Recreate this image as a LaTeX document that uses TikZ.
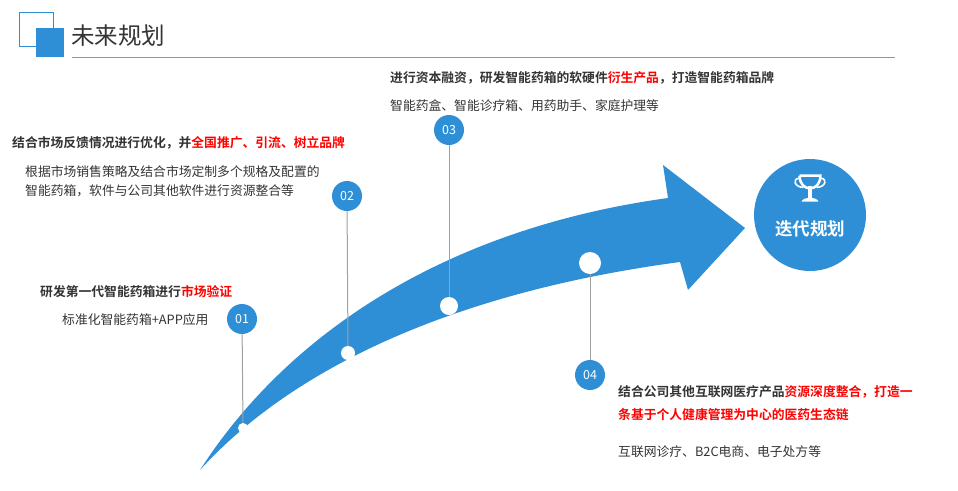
\documentclass[tikz,border=0pt]{standalone}
\usepackage{fontspec}
\setmainfont{Noto Sans CJK SC}[BoldFont={Noto Sans CJK SC Bold}]
\definecolor{myblue}{HTML}{2E8FD6}
\definecolor{mytext}{HTML}{333333}
\definecolor{mygray}{HTML}{A0A0A0}
\tikzset{
  numdot/.style = {circle, fill=myblue, text=white, minimum size=30pt, inner sep=0pt, font=\fontsize{12.5}{12.5}\selectfont},
  whitedot/.style = {circle, fill=white, inner sep=0pt},
  txt/.style = {anchor=west, inner sep=0pt, text=mytext, font=\fontsize{12.8}{14}\selectfont},
  boldtxt/.style = {txt, font=\fontsize{12.8}{14}\selectfont\bfseries},
  stem/.style = {mygray, line width=1pt}
}
\newcommand{\hl}[1]{\textcolor{red}{#1}}
\begin{document}
\begin{tikzpicture}[x=1pt, y=-1pt]
\useasboundingbox (0,0) rectangle (958,490);
% title
\draw [myblue, line width=1pt] (19.5,12.5) rectangle (53,46);
\fill [myblue] (36,28) rectangle (64,57);
\node [txt, font=\fontsize{23.5}{23.5}\selectfont] (title) at (71,36) {未来规划};
\draw [myblue!80, line width=0.6pt] (72,57) -- (895,57);
% arrow
\fill [myblue] (200,470) .. controls (290,330) and (450,228) .. (668,198)
  -- (663,165) -- (745,228) -- (688,290) -- (680,262)
  .. controls (470,290) and (300,360) .. (200,470);
% dots on the arrow
\node [whitedot, minimum size=10pt] (d1) at (243,428) {};
\node [whitedot, minimum size=14pt] (d2) at (348,353) {};
\node [whitedot, minimum size=18pt] (d3) at (449,306) {};
\node [whitedot, minimum size=22pt] (d4) at (590,263) {};
% number circles
\node [numdot] (n1) at (242,319) {01};
\node [numdot] (n2) at (347,196) {02};
\node [numdot] (n3) at (449,130) {03};
\node [numdot] (n4) at (590,375) {04};
\draw [stem] (n1) -- (d1);
\draw [stem] (n2) -- (d2);
\draw [stem] (n3) -- (d3);
\draw [stem] (n4) -- (d4);
% goal
\node [circle, fill=myblue, minimum size=112pt, inner sep=0pt] (goal) at (810,215) {};
\node [text=white, font=\fontsize{17.5}{17.5}\selectfont\bfseries] (goaltxt) at (810,229) {迭代规划};
\begin{scope}[shift={(810,190)}, scale=1.3]
  \draw [white, line width=2.5pt] (-8,-11) -- (8,-11) .. controls (8,2) and (-8,2) .. (-8,-11);
  \draw [white, line width=1.6pt] (-8,-9) .. controls (-14,-9) and (-12,-2) .. (-5,-2);
  \draw [white, line width=1.6pt] (8,-9) .. controls (14,-9) and (12,-2) .. (5,-2);
  \fill [white] (-1.3,-3) rectangle (1.3,6);
  \fill [white] (-6.5,9) .. controls (-5.5,5) and (5.5,5) .. (6.5,9) -- cycle;
\end{scope}
% texts
\node [boldtxt] (t3a) at (390,78) {进行资本融资，研发智能药箱的软硬件\hl{衍生产品}，打造智能药箱品牌};
\node [txt] (t3b) at (390,106) {智能药盒、智能诊疗箱、用药助手、家庭护理等};
\node [boldtxt] (t2a) at (12,143) {结合市场反馈情况进行优化，并\hl{全国推广、引流、树立品牌}};
\node [txt] (t2b) at (25,172) {根据市场销售策略及结合市场定制多个规格及配置的};
\node [txt] (t2c) at (25,191) {智能药箱，软件与公司其他软件进行资源整合等};
\node [boldtxt] (t1a) at (40,292) {研发第一代智能药箱进行\hl{市场验证}};
\node [txt] (t1b) at (62,320) {标准化智能药箱+APP应用};
\node [boldtxt] (t4a) at (618,392) {结合公司其他互联网医疗产品\hl{资源深度整合，打造一}};
\node [boldtxt] (t4b) at (618,415) {\hl{条基于个人健康管理为中心的医药生态链}};
\node [txt] (t4c) at (618,452) {互联网诊疗、B2C电商、电子处方等};
\end{tikzpicture}
\end{document}
